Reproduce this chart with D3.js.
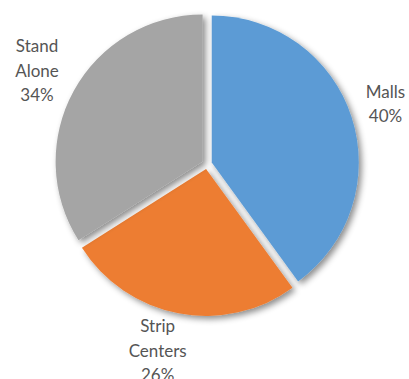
<!DOCTYPE html>
<html>
<head>
<meta charset="utf-8">
<script src="https://cdn.jsdelivr.net/npm/d3@7"></script>
<style>
  html, body { margin: 0; padding: 0; background: #ffffff; }
  svg { display: block; }
</style>
</head>
<body>
<svg id="chart" width="409" height="379"></svg>
<script>
// Share of locations by shopping format
const categories = ["Malls", "Strip Centers", "Stand Alone"];
const shares = [40, 26, 34];
const labelLines = [["Malls"], ["Strip", "Centers"], ["Stand", "Alone"]];
const colors = ["#5B9BD5", "#ED7D31", "#A5A5A5"];

const W = 409, H = 379;
const cx = 207, cy = 164;
const radius = 147;
const explode = 5;
const labelRadius = 194;
const lineHeight = 24.5;
// small hand adjustments for label placement
const labelNudge = { "Malls": [-6, 0], "Strip Centers": [-13, -4] };

const svg = d3.select("#chart");

// soft drop shadow under each slice
const defs = svg.append("defs");
const f = defs.append("filter").attr("id", "shadow")
  .attr("x", "-20%").attr("y", "-20%").attr("width", "140%").attr("height", "140%");
f.append("feDropShadow")
  .attr("dx", 3).attr("dy", 3).attr("stdDeviation", 3)
  .attr("flood-color", "#000").attr("flood-opacity", 0.45);

const pie = d3.pie().sort(null).value(d => d.value);
const arcs = pie(categories.map((c, i) => ({ name: c, value: shares[i], color: colors[i], lines: labelLines[i] })));
const arc = d3.arc().innerRadius(0).outerRadius(radius);

const g = svg.append("g").attr("transform", `translate(${cx},${cy})`);

g.selectAll("path.slice")
  .data(arcs)
  .join("path")
  .attr("class", "slice")
  .attr("d", arc)
  .attr("fill", d => d.data.color)
  .attr("filter", "url(#shadow)")
  .attr("transform", d => {
    const a = (d.startAngle + d.endAngle) / 2;
    return `translate(${explode * Math.sin(a)},${-explode * Math.cos(a)})`;
  });

const total = d3.sum(shares);
const labels = g.selectAll("text.label")
  .data(arcs)
  .join("text")
  .attr("class", "label")
  .attr("text-anchor", "middle")
  .attr("font-family", "Lato, 'Open Sans', sans-serif")
  .attr("font-size", 17)
  .attr("fill", "#555555");

labels.each(function(d) {
  const a = (d.startAngle + d.endAngle) / 2;
  const nudge = labelNudge[d.data.name] || [0, 0];
  const x = labelRadius * Math.sin(a) + nudge[0];
  const y = -labelRadius * Math.cos(a) + nudge[1];
  const lines = d.data.lines.concat([Math.round(d.data.value / total * 100) + "%"]);
  const top = y - (lines.length - 1) * lineHeight / 2 + 6;
  const t = d3.select(this);
  lines.forEach((ln, i) => {
    t.append("tspan").attr("x", x).attr("y", top + i * lineHeight).text(ln);
  });
});
</script>
</body>
</html>
